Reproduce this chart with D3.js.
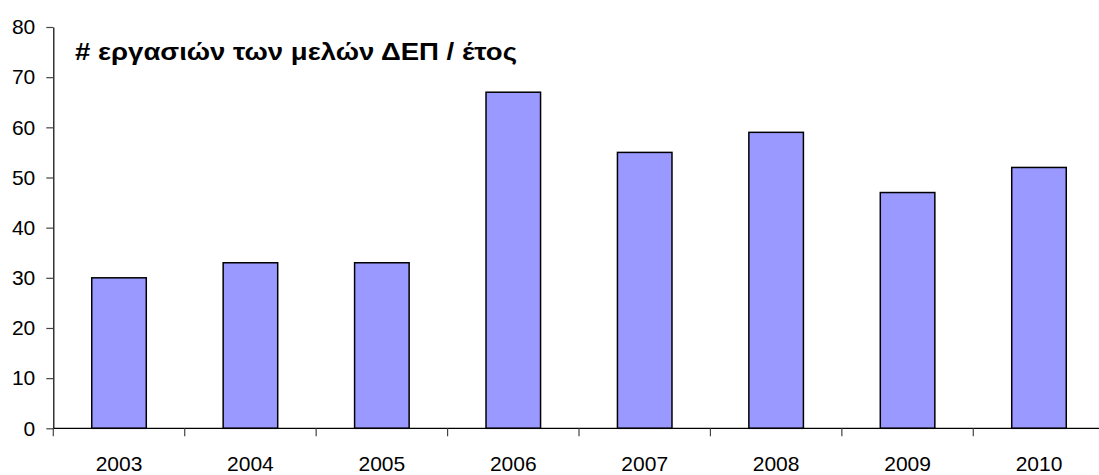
<!DOCTYPE html>
<html>
<head>
<meta charset="utf-8">
<script src="https://cdnjs.cloudflare.com/ajax/libs/d3/7.8.5/d3.min.js"></script>
<style>
  html, body { margin: 0; padding: 0; background: #fff; }
  svg { display: block; }
</style>
</head>
<body>
<svg id="chart" width="1099" height="475"></svg>
<script>
const categories = ["2003", "2004", "2005", "2006", "2007", "2008", "2009", "2010"];
const values = [30, 33, 33, 67, 55, 59, 47, 52];
const yTicks = [0, 10, 20, 30, 40, 50, 60, 70, 80];
const title = "# εργασιών των μελών ΔΕΠ / έτος";

const svg = d3.select("#chart");
const font = "Liberation Sans, Arial, sans-serif";

const x = d3.scaleBand().domain(categories).range([53.3, 1104.7])
  .paddingInner(0.585).paddingOuter(0.2925);
const y = d3.scaleLinear().domain([0, 80]).range([428.3, 27]);

// bars
svg.append("g").selectAll("rect").data(values).join("rect")
  .attr("x", (d, i) => x(categories[i]))
  .attr("y", d => y(d))
  .attr("width", x.bandwidth())
  .attr("height", d => y(0) - y(d))
  .attr("fill", "#9999FF")
  .attr("stroke", "#000")
  .attr("stroke-width", 1.5);

// y axis
const yAxis = svg.append("g").attr("transform", "translate(53.3,0)")
  .call(d3.axisLeft(y).tickValues(yTicks).tickSize(7).tickPadding(11).tickSizeOuter(0));
yAxis.select(".domain").attr("stroke", "#000").attr("stroke-width", 1.2);
yAxis.selectAll(".tick line").attr("stroke", "#444").attr("stroke-width", 1.2);
yAxis.selectAll(".tick text").attr("font-family", font).attr("font-size", 21).attr("fill", "#000");

// x axis
const xg = svg.append("g").attr("transform", `translate(0,${y(0)})`);
xg.append("line").attr("x1", 53.3).attr("x2", 1104.7).attr("y1", 0).attr("y2", 0)
  .attr("stroke", "#000").attr("stroke-width", 1.2);
const half = (x.step() - x.bandwidth()) / 2;
const boundaries = categories.map(c => x(c) - half)
  .concat([x(categories[categories.length - 1]) + x.bandwidth() + half]);
xg.selectAll("line.tk").data(boundaries).join("line").attr("class", "tk")
  .attr("x1", d => d).attr("x2", d => d).attr("y1", 0).attr("y2", 8)
  .attr("stroke", "#444").attr("stroke-width", 1.2);
xg.selectAll("text").data(categories).join("text")
  .attr("x", d => x(d) + x.bandwidth() / 2)
  .attr("y", 42.5)
  .attr("text-anchor", "middle")
  .attr("font-family", font).attr("font-size", 21).attr("fill", "#000")
  .text(d => d);

// title
svg.append("text").attr("x", 75).attr("y", 59.5)
  .attr("font-family", font).attr("font-size", 23).attr("font-weight", "bold")
  .attr("textLength", 442).attr("lengthAdjust", "spacingAndGlyphs")
  .attr("fill", "#000").text(title);
</script>
</body>
</html>
